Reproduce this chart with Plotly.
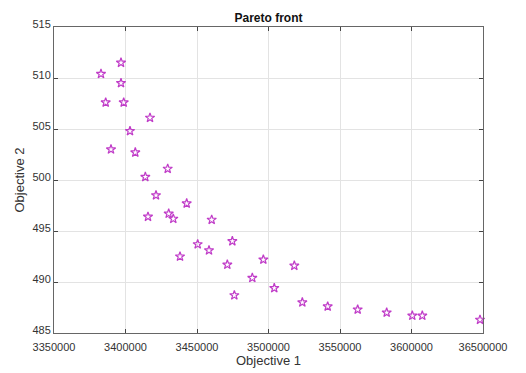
import plotly.graph_objects as go

obj1 = [3396850, 3382860, 3396850, 3386150, 3398740, 3417130, 3403130, 3389860,
        3406850, 3429500, 3413870, 3421330, 3442780, 3415730, 3430200, 3433430,
        3460270, 3450480, 3458390, 3474710, 3438110, 3471210, 3488680, 3476110,
        3496390, 3518060, 3504040, 3523650, 3541390, 3562360, 3582640, 3600560,
        3607550, 3647900]
obj2 = [511.5, 510.4, 509.5, 507.6, 507.6, 506.1, 504.8, 503.0,
        502.7, 501.1, 500.3, 498.5, 497.7, 496.4, 496.7, 496.2,
        496.1, 493.7, 493.1, 494.0, 492.5, 491.7, 490.4, 488.7,
        492.2, 491.6, 489.4, 488.0, 487.6, 487.3, 487.0, 486.7,
        486.7, 486.3]

xtick_vals = [3350000, 3400000, 3450000, 3500000, 3550000, 3600000, 3650000]
xtick_text = ["3350000", "3400000", "3450000", "3500000", "3550000", "3600000", "36500000"]
ytick_vals = [485, 490, 495, 500, 505, 510, 515]

fig = go.Figure()
fig.add_trace(go.Scatter(
    x=obj1, y=obj2, mode="markers",
    marker=dict(symbol="star-open", size=7, color="#C03CC8", line=dict(width=1.2, color="#C03CC8")),
    showlegend=False, cliponaxis=False,
))

axis_common = dict(
    showline=True, linecolor="#666666", linewidth=1, mirror="allticks",
    ticks="inside", ticklen=4, tickcolor="#444444",
    showgrid=True, gridcolor="#E3E3E3", gridwidth=1,
    zeroline=False,
    tickfont=dict(family="Liberation Sans, Arial, sans-serif", size=11, color="#333333"),
)

fig.update_layout(
    width=526, height=373,
    margin=dict(l=54, r=43, t=27, b=40),
    paper_bgcolor="white", plot_bgcolor="white",
    title=dict(text="<b>Pareto front</b>", x=0.5105, xanchor="center", y=0.952, yanchor="middle",
               font=dict(family="Liberation Sans, Arial, sans-serif", size=12, color="#111111")),
    xaxis=dict(range=[3350000, 3650000], tickvals=xtick_vals, ticktext=xtick_text,
               ticklabelstandoff=4,
               title=dict(text="Objective 1", standoff=0,
                          font=dict(family="Liberation Sans, Arial, sans-serif", size=13, color="#333333")),
               **axis_common),
    yaxis=dict(range=[485, 515], tickvals=ytick_vals, ticklabelshift=-3,
               title=dict(text="Objective 2", standoff=4,
                          font=dict(family="Liberation Sans, Arial, sans-serif", size=13, color="#333333")),
               **axis_common),
)

fig.write_html("out.html", config={"displayModeBar": False},
               post_script="document.body.style.margin='0';document.body.style.padding='0';")
